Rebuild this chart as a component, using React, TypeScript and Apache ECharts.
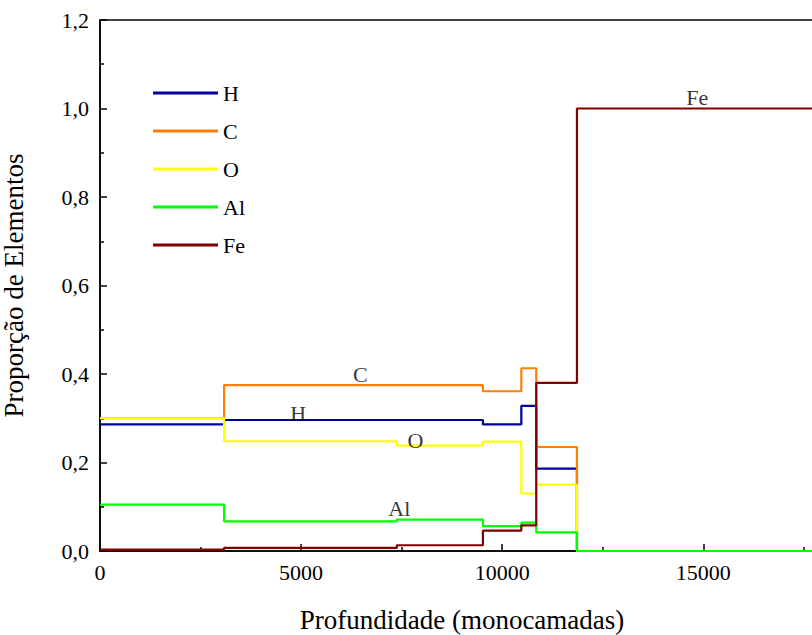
import React, { useEffect, useRef } from "react";
import * as echarts from "echarts";

const depthBreaks = [0, 3085, 7380, 9520, 10475, 10846, 11858, 18000];
const hValues = [0.286, 0.296, 0.296, 0.286, 0.328, 0.186, 0, 0];
const cValues = [0.300, 0.375, 0.375, 0.361, 0.413, 0.235, 0, 0];
const oValues = [0.300, 0.248, 0.238, 0.247, 0.130, 0.150, 0, 0];
const alValues = [0.105, 0.067, 0.071, 0.056, 0.064, 0.042, 0, 0];
const feValues = [0.003, 0.007, 0.013, 0.046, 0.058, 0.380, 1.0, 1.0];

const seriesNames = ["H", "C", "O", "Al", "Fe"];
const seriesColors = ["#00009C", "#FF8000", "#FFFF00", "#00FF00", "#800000"];
const allValues = [hValues, cValues, oValues, alValues, feValues];

const inlineLabels = [
  { text: "C", x: 6470, y: 0.4 },
  { text: "H", x: 4925, y: 0.311 },
  { text: "O", x: 7840, y: 0.25 },
  { text: "Al", x: 7440, y: 0.095 },
  { text: "Fe", x: 14850, y: 1.025 },
];

const xTicks = { min: 0, max: 18000, interval: 5000 };
const yTicks = { min: 0, max: 1.2, interval: 0.2 };

const FONT = "Liberation Serif";

export default function App() {
  const ref = useRef<HTMLDivElement>(null);
  useEffect(() => {
    if (!ref.current) return;
    const chart = echarts.init(ref.current, null, { renderer: "svg" });
    const lineSeries = seriesNames.map((name, i) => ({
      name,
      type: "line",
      step: "end",
      showSymbol: false,
      symbol: "none",
      lineStyle: { color: seriesColors[i], width: 2.2 },
      itemStyle: { color: seriesColors[i] },
      data: depthBreaks.map((d, k) => [d, allValues[i][k]]),
      z: 2 + i,
    }));
    chart.setOption({
      animation: false,
      backgroundColor: "#fff",
      textStyle: { fontFamily: FONT },
      grid: {
        left: 100,
        top: 20,
        width: 724,
        height: 531,
        containLabel: false,
        outerBoundsMode: "none",
        show: true,
        borderColor: "#000",
        borderWidth: 1.5,
      },
      legend: {
        data: seriesNames.map((n) => ({ name: n, icon: "rect" })),
        orient: "vertical",
        left: 148,
        top: 77,
        itemWidth: 65,
        itemHeight: 3,
        itemGap: 16,
        textStyle: { fontFamily: FONT, fontSize: 22, color: "#000", lineHeight: 22 },
        itemStyle: { borderWidth: 0 },
      },
      xAxis: {
        type: "value",
        min: xTicks.min,
        max: xTicks.max,
        interval: xTicks.interval,
        name: "Profundidade (monocamadas)",
        nameLocation: "middle",
        nameGap: 55,
        nameTextStyle: { fontFamily: FONT, fontSize: 27, color: "#000" },
        axisLine: { lineStyle: { color: "#000", width: 1.5 } },
        axisTick: { inside: true, length: 7, lineStyle: { color: "#000", width: 1.5 } },
        minorTick: { show: true, splitNumber: 2, length: 4, lineStyle: { color: "#000", width: 1.5 } },
        axisLabel: {
          fontFamily: FONT,
          fontSize: 22,
          color: "#000",
          margin: 10,
          showMaxLabel: false,
          formatter: (v: number) => String(v),
        },
        splitLine: { show: false },
      },
      yAxis: {
        type: "value",
        min: yTicks.min,
        max: yTicks.max,
        interval: yTicks.interval,
        name: "Proporção de Elementos",
        nameLocation: "middle",
        nameGap: 73,
        nameTextStyle: { fontFamily: FONT, fontSize: 27, color: "#000" },
        axisLine: { lineStyle: { color: "#000", width: 1.5 } },
        axisTick: { inside: true, length: 7, lineStyle: { color: "#000", width: 1.5 } },
        minorTick: { show: true, splitNumber: 2, length: 4, lineStyle: { color: "#000", width: 1.5 } },
        axisLabel: {
          fontFamily: FONT,
          fontSize: 22,
          color: "#000",
          margin: 11,
          formatter: (v: number) => v.toFixed(1).replace(".", ","),
        },
        splitLine: { show: false },
      },
      series: [
        ...lineSeries,
        {
          name: "labels",
          type: "scatter",
          symbolSize: 0,
          z: 10,
          data: inlineLabels.map((l) => ({ value: [l.x, l.y], name: l.text })),
          label: {
            show: true,
            position: "inside",
            formatter: (p: any) => p.name,
            fontFamily: FONT,
            fontSize: 22,
            color: "#000",
          },
        },
      ],
    });
    return () => chart.dispose();
  }, []);
  return (
    <div style={{ position: "absolute", left: 0, top: 0, width: 812, height: 635, overflow: "hidden" }}>
      <div ref={ref} style={{ width: 840, height: 635 }} />
    </div>
  );
}
